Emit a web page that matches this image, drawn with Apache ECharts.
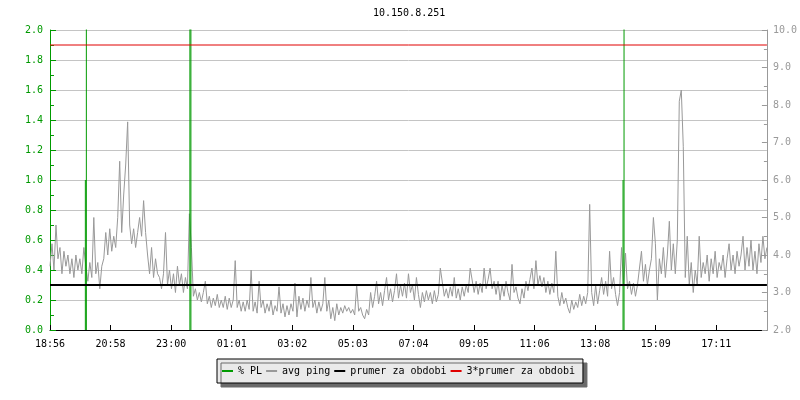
<!DOCTYPE html>
<html>
<head>
<meta charset="utf-8">
<script src="https://cdn.jsdelivr.net/npm/echarts@6/dist/echarts.min.js"></script>
<style>
html,body{margin:0;padding:0;background:#fff;}
#chart{width:800px;height:400px;}
</style>
</head>
<body>
<div id="chart"></div>
<script>
// time axis in minutes from 18:56 (one plot pixel = 2 minutes)
var xLabels = ['18:56','20:58','23:00','01:01','03:02','05:03','07:04','09:05','11:06','13:08','15:09','17:11'];
var xTickStep = 121.67;
var xMax = 1440;

// avg ping (ms, right axis), one sample every 4 minutes
var pingStep = 4;
var pingValues = [
  3.7,4.3,3.6,4.8,3.9,4.2,3.5,4.1,3.7,4.0,
  3.5,3.9,3.4,4.0,3.6,3.9,3.5,4.2,
  3.7,3.3,3.8,3.4,5.0,3.5,3.8,3.1,3.7,
  3.9,4.6,4.0,4.7,4.1,4.5,4.2,
  5.0,6.5,4.6,5.6,6.4,7.55,4.8,
  4.3,4.7,4.2,4.6,5.0,4.5,5.45,4.6,
  4.0,3.5,4.2,3.4,3.9,3.5,
  3.4,3.1,3.5,4.6,3.2,
  3.6,3.1,3.5,3.0,3.7,3.2,3.5,3.0,3.4,3.1,
  5.1,4.2,
  2.9,3.1,2.8,3.0,2.75,3.0,3.3,
  2.7,2.9,2.6,2.85,2.65,2.95,2.6,2.8,
  2.6,2.9,2.55,2.85,2.6,2.8,3.85,
  2.6,2.8,2.5,2.75,2.5,2.8,2.55,
  3.6,
  2.5,2.75,2.45,3.3,2.6,2.8,2.45,2.7,2.5,2.8,2.4,2.65,
  2.5,3.15,2.45,2.7,2.35,2.65,2.4,2.7,
  2.5,3.25,2.35,2.9,
  2.55,2.85,2.5,2.8,2.6,3.4,
  2.6,2.8,2.45,2.75,2.5,2.7,3.4,
  2.5,2.8,2.3,2.6,2.25,2.7,2.4,
  2.6,2.45,2.65,2.5,2.6,2.45,
  2.55,2.4,3.2,2.5,
  2.6,2.4,2.3,2.55,2.4,
  3.0,2.6,2.9,
  3.3,2.7,3.0,2.65,3.05,
  3.4,2.8,3.1,2.75,3.05,3.5,2.85,
  3.2,2.9,3.25,2.85,3.5,3.0,3.2,2.8,3.4,2.95,
  2.6,3.0,2.75,3.05,2.8,3.0,2.7,3.05,2.75,2.95,
  3.65,3.6,2.9,
  3.1,2.85,3.15,2.9,3.4,2.85,3.1,2.8,3.15,2.9,
  3.2,3.0,3.65,3.7,3.0,3.3,2.95,3.25,3.0,3.65,3.1,3.35,
  3.65,3.1,3.3,
  2.95,3.3,2.8,3.2,2.9,3.3,3.0,
  2.8,3.75,3.0,
  3.15,2.85,2.7,3.1,2.85,
  3.3,3.05,3.35,3.65,3.1,
  3.85,3.2,3.45,3.15,3.4,
  3.0,3.3,2.95,3.25,3.0,
  4.1,
  2.9,2.65,3.0,2.7,2.85,2.6,
  2.45,2.8,2.55,2.75,
  2.6,2.95,2.65,2.9,2.7,3.0,
  5.35,3.0,
  2.65,3.2,2.7,3.05,
  3.4,2.95,3.3,2.9,4.1,3.1,3.4,2.95,2.65,3.0,
  4.2,3.2,
  4.05,3.1,3.3,2.95,3.25,2.9,3.2,
  3.2,4.1,3.3,3.75,3.2,3.6,
  3.9,5.0,4.3,2.8,3.9,
  3.5,4.2,3.4,4.0,4.9,3.6,4.3,3.5,4.4,
  8.1,8.4,6.9,
  3.4,4.5,3.2,3.8,3.0,3.6,3.2,4.5,3.4,3.8,
  3.5,4.0,3.3,3.9,3.5,4.1,3.4,3.8,3.6,4.0,3.4,3.9,4.3,3.6,4.0,3.5,
  4.1,3.7,4.0,4.5,3.6,4.2,3.7,4.4,3.6,4.1,3.5,4.3,3.8,4.5,3.9,4.2
];

// packet loss events (% PL, left axis): [minute, value]
var plEvents = [[71,1.0],[73,100],[281,100],[283,100],[1151,1.0],[1153,100]];

// period average and 3*average (ms)
var avgPing = 3.2;
var avgPing3 = 9.6;

var FONT = 'DejaVu Sans Mono';

var pingData = pingValues.map(function(v,i){ return [i*pingStep, v]; });
var plData = [];
plEvents.forEach(function(e,k){
  if (k>0) plData.push([e[0],'-']);
  plData.push([e[0],0]);
  plData.push([e[0],e[1]]);
});

var chart = echarts.init(document.getElementById('chart'), null, {renderer:'canvas'});
chart.setOption({
  animation:false,
  backgroundColor:'#ffffff',
  title:{
    text:'10.150.8.251', left:373, top:8, padding:0,
    textStyle:{fontFamily:FONT,fontSize:10,fontWeight:'normal',color:'#000'}
  },
  legend:{
    left:217, top:359, orient:'horizontal',
    padding:[6,8,6,5], itemGap:4, itemWidth:11, itemHeight:2,
    icon:'rect',
    backgroundColor:'#eaeaea', borderColor:'#000', borderWidth:1,
    shadowColor:'#6a6a6a', shadowOffsetX:4, shadowOffsetY:4, shadowBlur:0,
    textStyle:{fontFamily:FONT,fontSize:10,color:'#000',lineHeight:12},
    data:['% PL','avg ping','prumer za obdobi','3*prumer za obdobi']
  },
  grid:{left:50,right:30,top:30,bottom:70,containLabel:false},
  xAxis:{
    type:'value', min:0, max:xMax, interval:xTickStep,
    axisLine:{lineStyle:{color:'#000',width:1}},
    axisTick:{inside:true,length:5,lineStyle:{color:'#000'}},
    axisLabel:{
      fontFamily:FONT,fontSize:10,color:'#000',margin:9,
      showMaxLabel:false,
      formatter:function(v){ var i=Math.round(v/xTickStep); return xLabels[i]||''; }
    },
    splitLine:{show:false}
  },
  yAxis:[{
    type:'value', min:0, max:2, interval:0.2, position:'left',
    axisLine:{show:true,lineStyle:{color:'#009a00',width:1}},
    axisTick:{show:true,inside:true,length:6,lineStyle:{color:'#009a00'}},
    minorTick:{show:true,splitNumber:2,length:4,lineStyle:{color:'#009a00'}},
    axisLabel:{fontFamily:FONT,fontSize:10,color:'#009a00',margin:7,
      formatter:function(v){return v.toFixed(1);}},
    splitLine:{show:true,lineStyle:{color:'#c4c4c4',width:1}}
  },{
    type:'value', min:2, max:10, interval:1, position:'right',
    axisLine:{show:true,lineStyle:{color:'#999',width:1}},
    axisTick:{show:true,inside:true,length:5,lineStyle:{color:'#999'}},
    minorTick:{show:true,splitNumber:2,length:3,lineStyle:{color:'#999'}},
    axisLabel:{fontFamily:FONT,fontSize:10,color:'#999',margin:6,
      formatter:function(v){return v.toFixed(1);}},
    splitLine:{show:false}
  }],
  series:[{
    name:'% PL', type:'line', yAxisIndex:0, data:plData,
    symbol:'none', connectNulls:false, clip:true, z:4,
    color:'#009a00', lineStyle:{color:'#009a00',width:1}
  },{
    name:'avg ping', type:'line', yAxisIndex:1, data:pingData,
    symbol:'none', clip:true, z:3,
    color:'#999999', lineStyle:{color:'#999999',width:1}
  },{
    name:'prumer za obdobi', type:'line', yAxisIndex:1,
    data:[[0,avgPing],[xMax,avgPing]],
    symbol:'none', z:5,
    color:'#000', lineStyle:{color:'#000',width:2}
  },{
    name:'3*prumer za obdobi', type:'line', yAxisIndex:1,
    data:[[0,avgPing3],[xMax,avgPing3]],
    symbol:'none', z:5,
    color:'#e00000', lineStyle:{color:'#e00000',width:1}
  }]
});
</script>
</body>
</html>
